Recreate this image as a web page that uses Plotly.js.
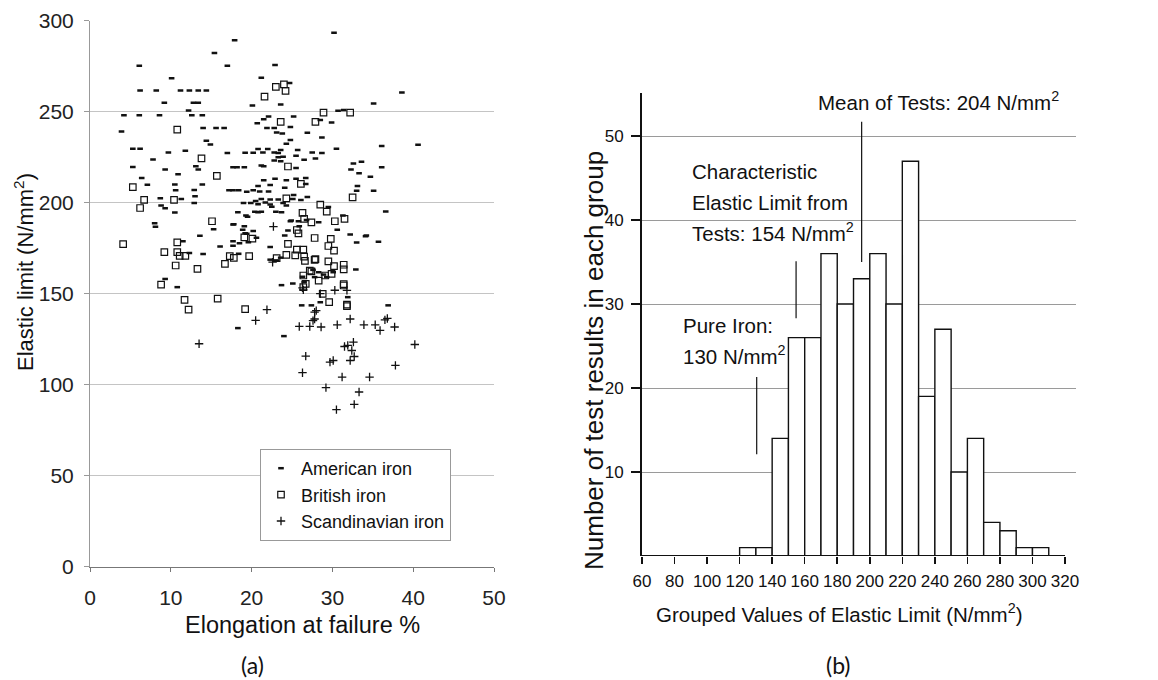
<!DOCTYPE html>
<html><head><meta charset="utf-8">
<script src="https://cdn.plot.ly/plotly-3.0.1.min.js"></script>
<style>html,body{margin:0;padding:0;background:#fff;} #chart{width:1158px;height:680px;}</style>
</head><body><div id="chart"></div>
<script>
// ---------- Panel (a): elongation (%) vs elastic limit (N/mm2) ----------
const american = [
[17.9,289.2],[15.4,282.3],[6.1,275.3],[17.0,275.2],[10.1,268.4],
[6.2,261.6],[8.2,261.6],[11.2,261.6],[12.3,261.6],[13.4,261.6],[14.4,261.6],
[9.2,254.9],[12.8,254.9],[13.4,254.9],[20.1,253.4],[12.2,250.6],
[4.2,248.1],[6.1,248.1],[8.6,248.1],[12.6,248.1],[13.9,248.1],
[3.9,239.1],[14.0,241.0],[15.6,241.0],[16.6,241.0],[14.4,234.0],[14.9,232.0],
[5.3,229.6],[6.2,229.6],[9.7,227.6],[11.8,228.5],[7.8,223.8],[17.0,227.3],[19.2,227.5],[20.2,227.5],
[5.3,219.6],[9.3,218.3],[10.9,215.6],[13.1,220.0],[13.4,218.3],[17.7,219.5],[18.2,219.5],[19.1,219.5],
[6.4,213.6],[7.1,209.9],[10.5,210.0],[13.9,210.0],[10.6,206.8],[12.9,207.0],[17.2,206.8],[17.7,206.8],[18.4,206.8],[19.4,206.0],[20.2,206.8],
[11.3,202.0],[8.7,202.5],[8.8,198.5],[13.0,203.5],[12.9,199.9],[9.3,197.0],[10.5,194.6],
[30.2,293.4],[22.9,275.7],[21.2,268.6],[24.7,265.8],[23.6,253.9],[38.6,260.5],[35.1,254.5],
[30.7,250.5],[31.4,251.0],[28.5,245.4],[29.9,244.1],[22.1,247.4],[21.5,245.9],[20.7,243.7],[25.2,247.3],[24.8,241.6],
[21.9,241.0],[22.8,241.0],[23.1,238.6],[23.8,238.0],[26.9,238.4],[28.7,235.8],[24.8,234.4],[24.3,232.4],[36.1,231.1],[40.6,231.8],[30.5,229.7],
[20.8,229.5],[21.4,227.6],[22.0,229.5],[22.8,227.6],[23.3,227.3],[23.6,229.0],[25.7,229.0],[27.5,227.6],[28.7,227.3],[25.5,225.8],[27.9,224.3],[23.3,225.0],[23.9,225.3],
[26.5,223.6],[22.8,223.2],[23.6,222.8],[25.5,219.0],[21.2,220.5],[21.5,220.0],[32.6,221.6],[33.6,222.5],[36.1,219.5],[32.3,218.2],[33.3,216.2],[34.7,214.2],
[21.5,212.3],[22.9,213.2],[24.3,212.3],[25.5,213.2],[26.7,213.6],[20.8,209.2],[22.3,209.7],[24.1,208.2],[33.1,209.2],[33.0,206.6],[35.1,206.6],
[21.2,202.0],[22.3,201.7],[23.3,201.7],[25.2,204.2],[20.8,199.2],[21.7,200.1],[22.3,199.0],[36.6,195.1],[31.3,193.0],[20.4,195.0],[21.2,195.0],[23.0,195.0],
[21.0,206.1],[22.1,206.1],[26.7,210.3],
[19.0,199.8],[19.9,199.8],[20.5,201.0],[23.9,199.8],[24.3,198.5],[25.1,202.0],[26.1,201.5],[26.9,203.2],[29.5,197.6],
[18.3,194.7],[19.3,192.9],[20.8,194.7],[22.5,197.8],[23.7,194.7],[24.8,189.8],[25.8,189.8],[26.8,190.5],
[17.8,188.1],[18.9,185.1],[20.2,184.5],[19.2,183.2],[18.5,177.7],[19.6,178.3],[20.6,180.8],
[13.6,181.9],[16.1,176.0],[14.0,171.8],[22.3,175.6],[22.3,168.7],[23.1,168.3],[23.6,169.8],
[23.7,154.7],[25.1,155.6],[26.5,156.5],[26.3,159.3],[32.9,163.3],[33.0,178.2],[34.1,181.6],[35.7,178.5],
[26.2,143.6],[27.4,143.6],[28.5,145.3],[31.9,148.1],[36.9,143.6],[18.3,131.1],[24.0,126.7],
[8.0,188.7],[8.1,186.8],[15.3,185.4],[17.7,188.0],[19.1,187.0],[19.5,192.3],
[11.5,178.8],[19.4,182.9],[17.7,178.8],[17.7,176.3],[12.3,172.3],[18.4,171.9],[9.3,158.1],[10.8,153.6],
[28.3,189.3],[24.9,190.2],[25.9,187.0],[30.6,185.2],[32.2,182.5],[34.2,182.0],[24.5,184.7],[24.1,182.0],
[27.6,163.1],[28.3,161.8],[28.9,160.5],[27.8,159.1],[29.3,159.1],[30.1,161.8]
];
const british = [
[10.8,240.2],[13.8,224.3],[15.7,214.7],[5.3,208.6],[6.7,201.5],[6.2,197.1],[10.4,201.5],
[23.0,263.6],[24.0,265.0],[24.2,261.4],[21.6,258.3],[28.9,249.5],[32.2,249.5],[27.9,244.4],[23.6,244.4],[24.5,219.9],[26.1,210.3],[32.5,202.9],[24.3,202.4],[28.5,198.9],[29.3,195.1],[26.3,194.4],
[15.1,189.8],[4.1,177.2],[10.8,178.2],[19.1,181.0],[20.1,180.3],[9.2,172.8],[10.8,172.8],[11.1,170.8],[11.8,170.8],[10.6,165.5],[13.3,163.6],[17.3,170.6],[17.8,169.7],[19.7,170.6],[16.7,166.4],[8.8,155.0],[11.7,146.6],[12.2,141.2],[15.8,147.3],[19.2,141.5],
[30.3,189.8],[31.5,191.1],[27.4,189.2],[26.5,191.1],[25.6,185.0],[25.8,183.2],[27.8,180.6],[29.8,180.1],[24.5,177.4],[25.6,174.2],[26.4,174.2],[25.4,171.1],[26.5,170.4],[29.5,176.2],[30.2,173.7],[23.1,169.5],[24.3,171.3],[27.9,169.0],[29.5,167.8],[30.2,165.1],[31.4,165.9],[31.4,163.4],[27.4,162.3],[28.3,157.2],[26.7,155.4],[26.4,153.6],[26.4,160.0],[29.1,160.0],[29.9,160.9],[27.2,162.7],[31.4,155.3],[31.4,154.5],[28.8,149.9],[29.6,145.4],[31.8,143.2],[31.8,144.0],[26.6,168.0],[27.8,168.6]
];
const scandinavian = [
[22.7,186.9],[22.6,167.3],[26.3,153.2],[26.4,152.1],[30.3,151.9],[31.8,151.8],[28.5,150.0],[27.8,139.9],[28.0,140.7],[21.9,141.2],[20.5,135.3],[13.5,122.5],[27.8,136.1],[27.6,135.2],
[25.9,132.0],[27.2,132.0],[28.6,131.7],[30.6,132.9],[32.2,136.1],[33.9,132.9],[35.3,132.9],[35.9,129.8],[36.5,135.6],[36.8,136.4],[37.7,131.7],
[40.2,122.1],[31.5,121.0],[31.9,121.6],[32.6,123.4],[32.4,118.8],[32.7,115.5],[32.2,113.3],[26.7,115.7],[29.7,112.4],[30.1,113.3],[37.8,110.6],[26.3,106.6],[31.2,104.2],[34.6,104.2],[29.2,98.4],[33.3,96.0],[32.7,89.2],[30.5,86.3]
];
const seriesNames = ['American iron', 'British iron', 'Scandinavian iron'];
const xTicksA = [0, 10, 20, 30, 40, 50];
const yTicksA = [0, 50, 100, 150, 200, 250, 300];

// ---------- Panel (b): histogram of grouped elastic limit ----------
const binStart = [60,70,80,90,100,110,120,130,140,150,160,170,180,190,200,210,220,230,240,250,260,270,280,290,300];
const binCount = [0,0,0,0,0,0,1,1,14,26,26,36,30,33,36,30,47,19,27,10,14,4,3,1,1];
const binWidth = 10;
const xTicksB = [60,80,100,120,140,160,180,200,220,240,260,280,300,320];
const yTicksB = [10,20,30,40,50];
const meanLabel = ['Mean of Tests: 204 N/mm<sup>2</sup>'];
const charLabel = ['Characteristic', 'Elastic Limit from', 'Tests: 154 N/mm<sup>2</sup>'];
const pureLabel = ['Pure Iron:', '130 N/mm<sup>2</sup>'];

// ---------- layout helpers (pixel -> paper) ----------
const W = 1158, H = 680;
const px = x => x / W, py = y => 1 - y / H;
const FA = 'Liberation Sans, Arial, sans-serif';
const INK = '#111';

const traces = [
  {x: american.map(p => p[0]), y: american.map(p => p[1]), name: seriesNames[0], type: 'scatter', mode: 'markers',
   xaxis: 'x', yaxis: 'y', marker: {symbol: 'line-ew', size: 4, color: INK, line: {color: INK, width: 2.5}}},
  {x: british.map(p => p[0]), y: british.map(p => p[1]), name: seriesNames[1], type: 'scatter', mode: 'markers',
   xaxis: 'x', yaxis: 'y', marker: {symbol: 'square-open', size: 6.5, color: INK, line: {color: INK, width: 1.2}}},
  {x: scandinavian.map(p => p[0]), y: scandinavian.map(p => p[1]), name: seriesNames[2], type: 'scatter', mode: 'markers',
   xaxis: 'x', yaxis: 'y', marker: {symbol: 'cross-thin', size: 6, color: INK, line: {color: INK, width: 1.3}}},
  {x: binStart, y: binCount, type: 'bar', width: binWidth, offset: 0, xaxis: 'x2', yaxis: 'y2', showlegend: false,
   marker: {color: '#fff', line: {color: INK, width: 1.4}}, hoverinfo: 'x+y'}
];

const leaders = [ // x position and vertical extent of each pointer line (panel b)
  {x: 130.5, y0: 12.1, y1: 21.3},
  {x: 154.7, y0: 28.3, y1: 35.1},
  {x: 195.0, y0: 35.0, y1: 51.7}
];

const shapes = leaders.map(l => ({type: 'line', xref: 'x2', yref: 'y2', x0: l.x, x1: l.x, y0: l.y0, y1: l.y1,
  line: {color: INK, width: 1.2}}));
shapes.push({type: 'line', xref: 'x2', yref: 'y2', x0: binStart[0], x1: xTicksB[xTicksB.length - 1], y0: 0, y1: 0,
  line: {color: INK, width: 2}});

const FB = {family: FA, size: 20.5, color: INK};
const annotations = [
  {text: 'Elastic limit (N/mm<sup>2</sup>)', x: px(24), y: py(272), textangle: -90, font: {family: FA, size: 22, color: INK}},
  {text: 'Elongation at failure %', x: px(302), y: py(625), font: {family: FA, size: 23.5, color: INK}},
  {text: 'Grouped Values of Elastic Limit (N/mm<sup>2</sup>)', x: px(839.5), y: py(613), font: FB},
  {text: 'Number of test results in each group', x: px(594), y: py(361), textangle: -90, font: {family: FA, size: 26, color: INK}},
  {text: meanLabel[0], x: px(816), y: py(101), xanchor: 'left', font: FB},
  {text: charLabel[0], x: px(690), y: py(171), xanchor: 'left', font: FB},
  {text: charLabel[1], x: px(690), y: py(202.5), xanchor: 'left', font: FB},
  {text: charLabel[2], x: px(690), y: py(232), xanchor: 'left', font: FB},
  {text: pureLabel[0], x: px(681), y: py(325), xanchor: 'left', font: FB},
  {text: pureLabel[1], x: px(681), y: py(355), xanchor: 'left', font: FB},
  {text: '(a)', x: px(252), y: py(665), font: {family: 'Lato, Open Sans, sans-serif', size: 23, color: INK}},
  {text: '(b)', x: px(838), y: py(665), font: {family: 'Lato, Open Sans, sans-serif', size: 23, color: INK}}
].map(a => Object.assign({xref: 'paper', yref: 'paper', showarrow: false, xanchor: 'center', yanchor: 'middle'}, a));

const layout = {
  width: W, height: H, margin: {l: 0, r: 0, t: 0, b: 0},
  paper_bgcolor: '#fff', plot_bgcolor: 'rgba(0,0,0,0)',
  showlegend: true,
  legend: {x: px(260), y: py(449), xanchor: 'left', yanchor: 'top', bgcolor: '#fff', bordercolor: '#999', borderwidth: 1,
           font: {family: FA, size: 18, color: INK}, itemwidth: 30, tracegroupgap: 0},
  xaxis: {domain: [px(90), px(494)], range: [0, 50], anchor: 'y', tickvals: xTicksA, ticks: 'outside', ticklen: 4,
          tickcolor: '#777', showline: true, linecolor: '#777', linewidth: 1.5, showgrid: false, zeroline: false,
          tickfont: {family: FA, size: 21, color: '#222'}, ticklabelstandoff: 8},
  yaxis: {domain: [py(566.7), py(20.7)], range: [0, 300], anchor: 'x', tickvals: yTicksA, ticks: 'outside', ticklen: 5,
          tickcolor: '#999', showline: true, linecolor: '#999', linewidth: 1, showgrid: true, gridcolor: '#c4c4c4',
          zeroline: false, tickfont: {family: FA, size: 21, color: '#222'}, ticklabelstandoff: 6},
  xaxis2: {domain: [px(642), px(1075.6)], range: [60, 326.5], anchor: 'y2', tickvals: xTicksB, ticks: 'outside',
           ticklen: 7, tickwidth: 1.5, tickcolor: INK, showline: false, showgrid: false, zeroline: false,
           tickangle: 0, tickfont: {family: FA, size: 17, color: INK}, ticklabelstandoff: 3},
  yaxis2: {domain: [py(556), py(93)], range: [0, 55.12], anchor: 'x2', tickvals: yTicksB, ticks: 'outside',
           ticklen: 9, tickwidth: 1.2, tickcolor: INK, showline: true, linecolor: INK, linewidth: 2,
           showgrid: true, gridcolor: '#9a9a9a', gridwidth: 1, zeroline: false,
           tickfont: {family: FA, size: 17, color: INK}, ticklabelstandoff: 4},
  bargap: 0,
  shapes: shapes,
  annotations: annotations
};

Plotly.newPlot('chart', traces, layout, {displayModeBar: false, staticPlot: true});
</script></body></html>
